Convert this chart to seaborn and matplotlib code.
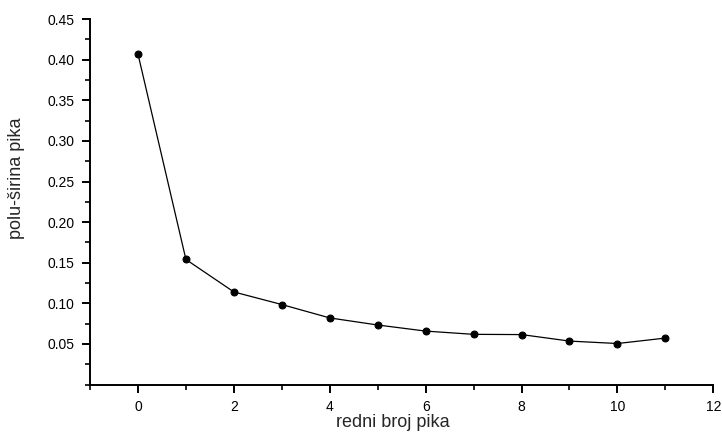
import matplotlib
matplotlib.use("Agg")
import matplotlib.pyplot as plt
import matplotlib.ticker as ticker
import numpy as np
import pandas as pd
import seaborn as sns

# redni broj pika / polu-sirina pika
peak_no = [0, 1, 2, 3, 4, 5, 6, 7, 8, 9, 10, 11]
half_width = [0.407, 0.154, 0.114, 0.0985, 0.082, 0.0733, 0.0658, 0.0618, 0.0615, 0.0535, 0.0505, 0.0572]

x_ticks = [0, 2, 4, 6, 8, 10, 12]
y_ticks = [0.05, 0.10, 0.15, 0.20, 0.25, 0.30, 0.35, 0.40, 0.45]

sns.set_style("ticks")
plt.rcParams['font.family'] = ['Liberation Sans', 'DejaVu Sans']

df = pd.DataFrame({"n": peak_no, "w": half_width})

fig = plt.figure(figsize=(7.22, 4.34), dpi=100)
ax = fig.add_axes([0.1247, 0.114, 0.8633, 0.842])

sns.lineplot(data=df, x="n", y="w", ax=ax, color="black", linewidth=0.9,
             marker="o", markersize=5, markeredgecolor="black", markerfacecolor="black")

ax.set_xlim(-1, 12)
ax.set_ylim(0, 0.45)
ax.set_xticks(x_ticks)
ax.set_yticks(y_ticks)
ax.xaxis.set_minor_locator(ticker.MultipleLocator(1))
ax.yaxis.set_minor_locator(ticker.MultipleLocator(0.025))
ax.yaxis.set_major_formatter(ticker.FormatStrFormatter('%.2f'))

for s in ['top', 'right']:
    ax.spines[s].set_visible(False)
for s in ['left', 'bottom']:
    ax.spines[s].set_linewidth(1.4)
    ax.spines[s].set_color('black')

ax.tick_params(which='major', direction='out', length=6, width=1.4, labelsize=10, pad=5, colors='black')
ax.tick_params(which='minor', direction='out', length=3.5, width=1.2, colors='black')

ax.set_xlabel("redni broj pika", fontsize=13)
ax.set_ylabel("polu-širina pika", fontsize=13)
ax.xaxis.set_label_coords(0.485, -0.082)
ax.yaxis.set_label_coords(-0.105, 0.565)

fig.savefig("out.png", dpi=100)
